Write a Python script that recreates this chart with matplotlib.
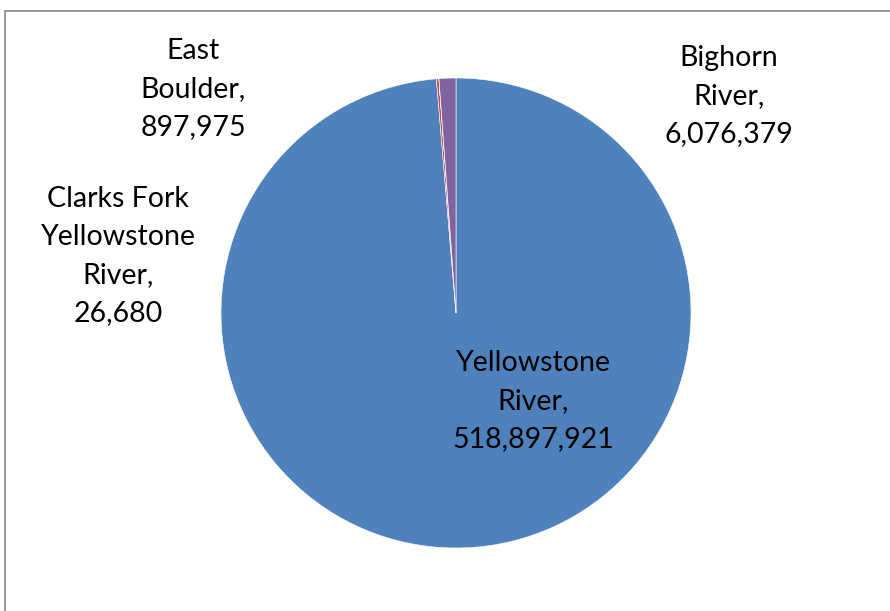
import matplotlib.pyplot as plt
from matplotlib.patches import Rectangle

# slice order as drawn (clockwise from 12 o'clock)
rivers = ['Yellowstone River', 'East Boulder', 'Clarks Fork Yellowstone River', 'Bighorn River']
values = [518897921, 897975, 26680, 6076379]
colors = ['#4F81BD', '#C0504D', '#9BBB59', '#8064A2']

# label text broken into lines like the original
label_lines = [
    ['Yellowstone', 'River,'],
    ['East', 'Boulder,'],
    ['Clarks Fork', 'Yellowstone', 'River,'],
    ['Bighorn', 'River,'],
]
# label centres in pixels (x, y from top)
label_pos = [(533, 401), (193, 89), (118, 256), (729, 96)]

plt.rcParams['font.family'] = ['Lato', 'DejaVu Sans']

fig = plt.figure(figsize=(8.9, 6.11), dpi=100)
ax = fig.add_axes([0, 0, 1, 1])
ax.set_xlim(0, 890)
ax.set_ylim(0, 611)
ax.set_aspect('equal')
ax.axis('off')

ax.pie(values, colors=colors, startangle=90, counterclock=False,
       center=(456, 611 - 313), radius=235,
       wedgeprops=dict(edgecolor='white', linewidth=0.4))
ax.set_xlim(0, 890)
ax.set_ylim(0, 611)

for lines, v, (x, y) in zip(label_lines, values, label_pos):
    txt = '\n'.join(lines + [f'{v:,}'])
    ax.text(x, 611 - y, txt, ha='center', va='center', fontsize=20.5,
            linespacing=1.58, color='black')

# chart area border
fig.patches.append(Rectangle((5 / 890, -0.1), 1.2, (611 - 11) / 611 + 0.1,
                             transform=fig.transFigure, fill=False,
                             edgecolor='#868686', linewidth=1.2))

plt.savefig('out.png', dpi=100)
